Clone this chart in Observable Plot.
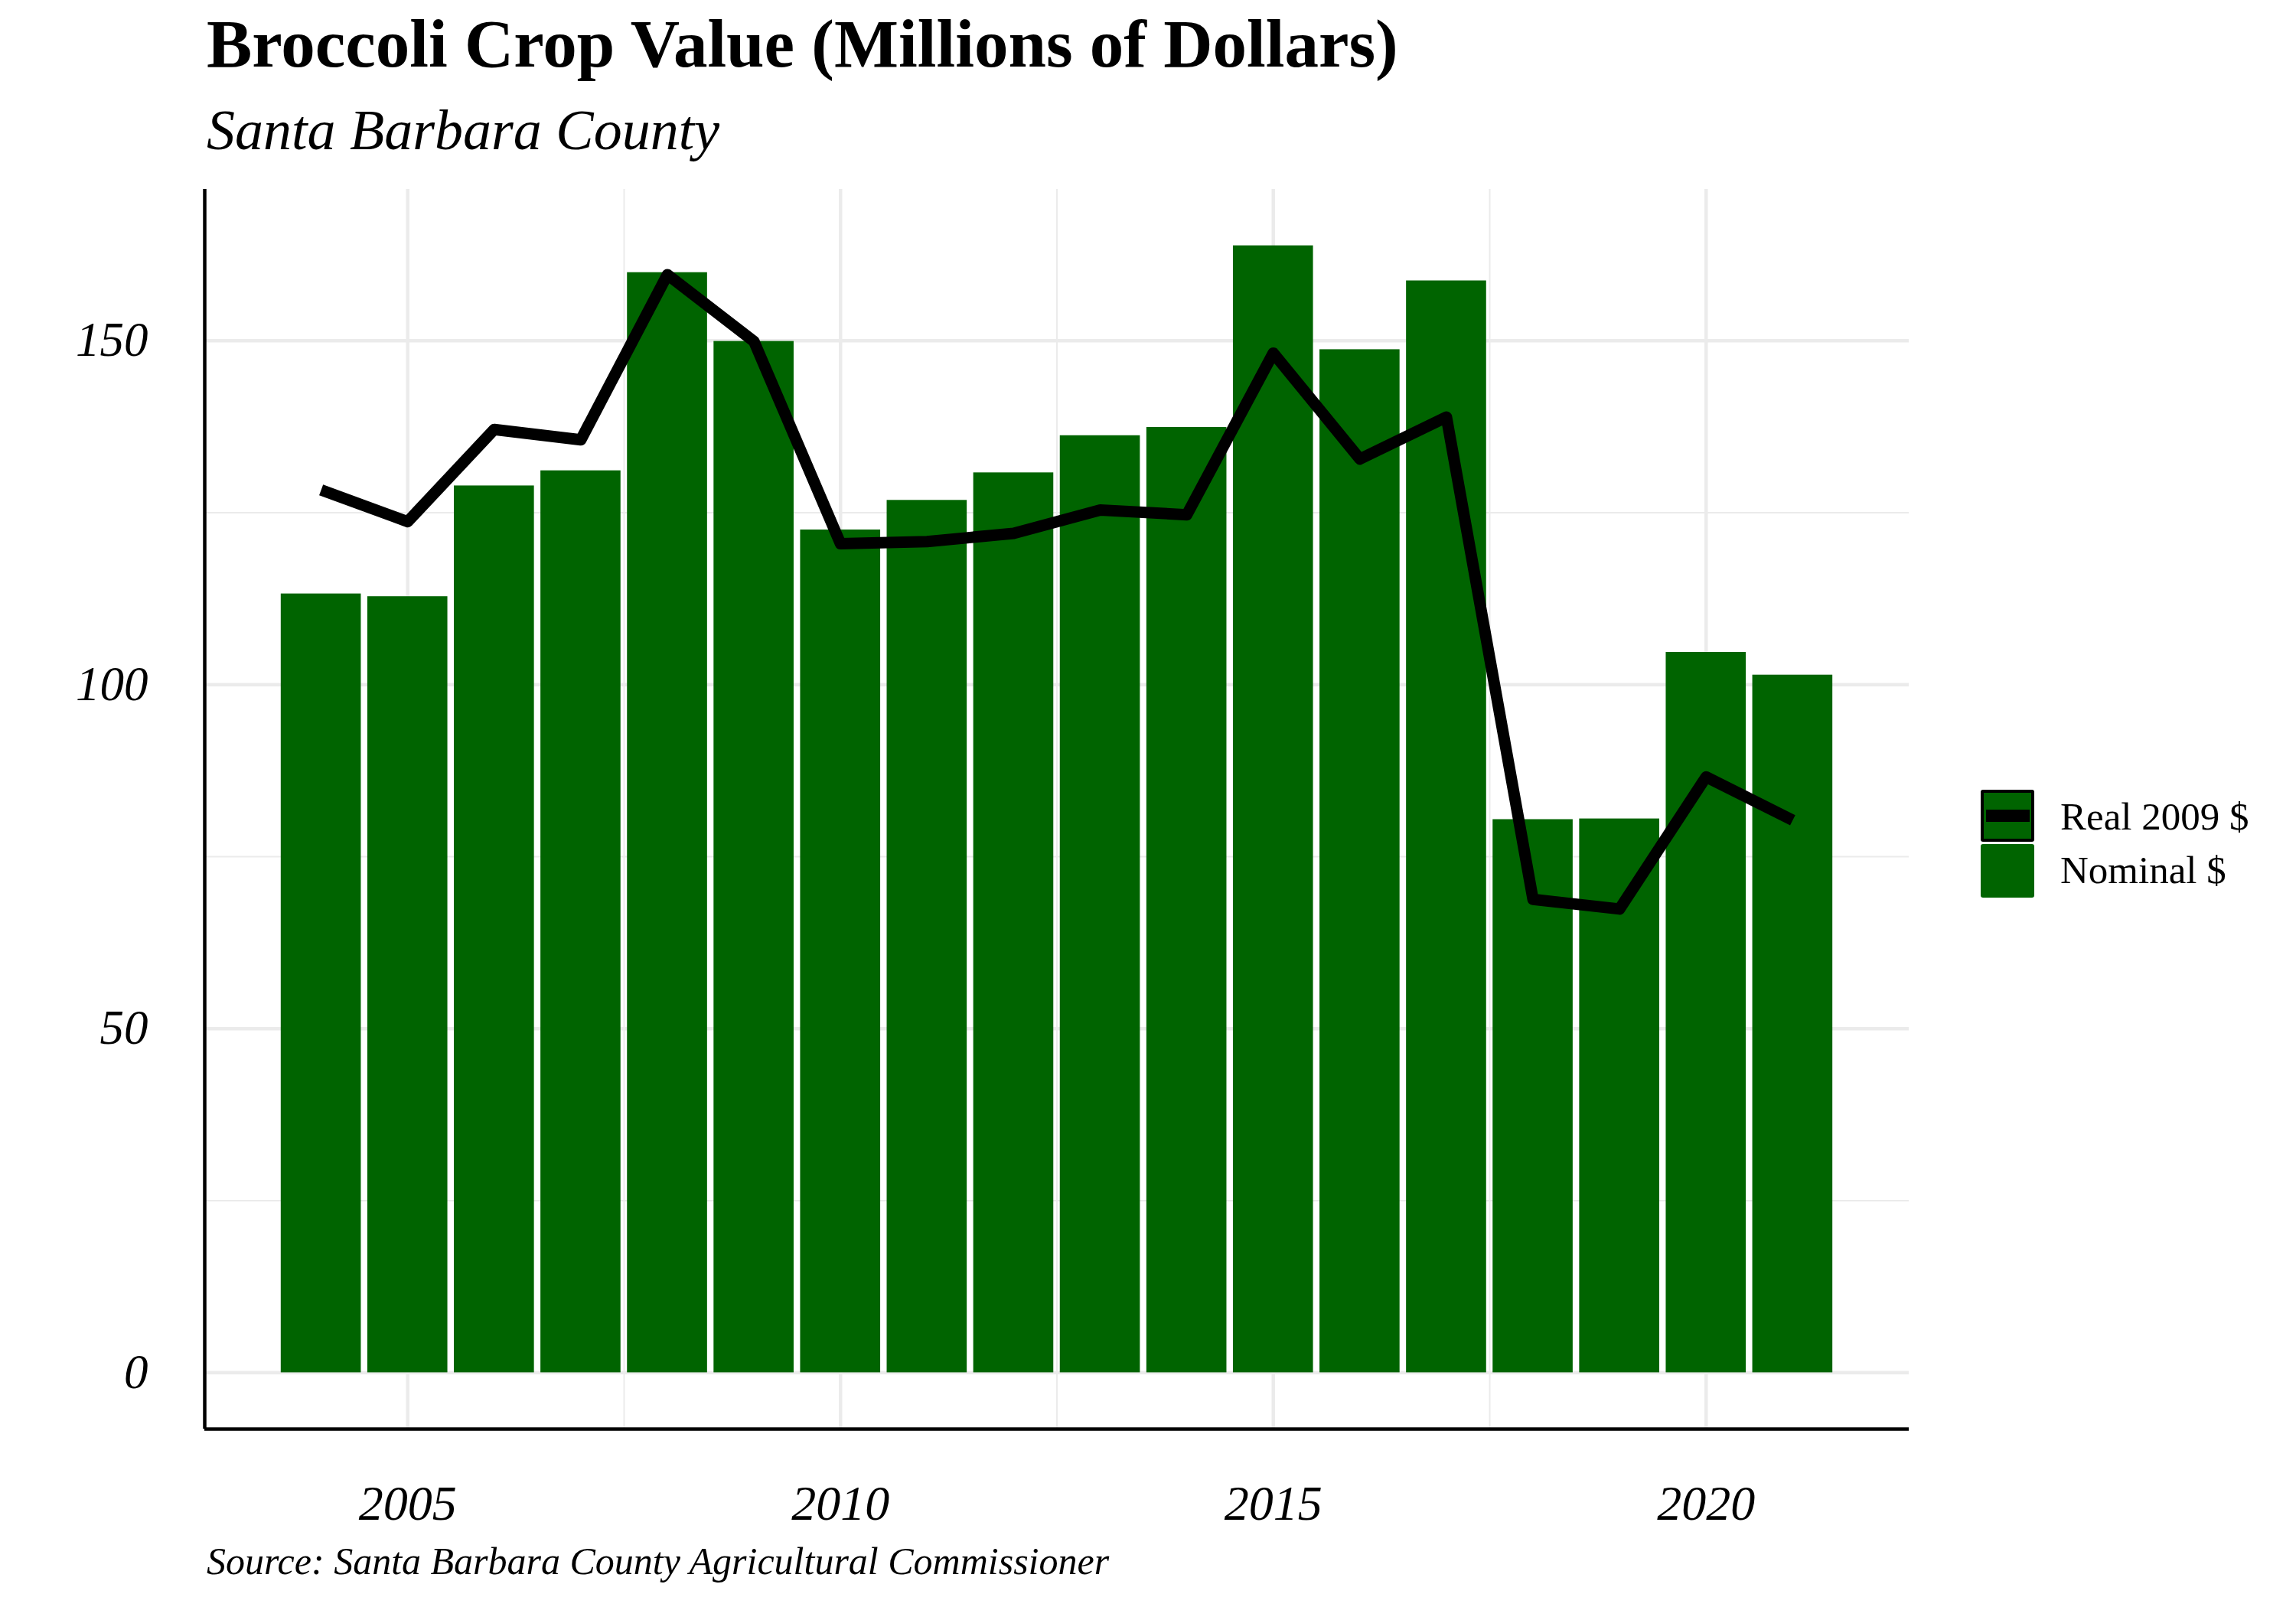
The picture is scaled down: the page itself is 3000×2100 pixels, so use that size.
<!DOCTYPE html>
<html>
<head>
<meta charset="utf-8">
<script src="https://cdn.jsdelivr.net/npm/d3@7"></script>
<script src="https://cdn.jsdelivr.net/npm/@observablehq/plot@0.6"></script>
<style>
  html, body { margin: 0; padding: 0; background: white; }
  #page { position: relative; width: 3000px; height: 2100px; background: white; font-family: "Liberation Serif", serif; color: black; overflow: hidden; }
  .txt { position: absolute; white-space: nowrap; line-height: 1; z-index: 2; }
  #title { left: 270px; top: 13px; font-size: 89px; font-weight: bold; }
  #subtitle { left: 270px; top: 133px; font-size: 74px; font-style: italic; }
  #caption { left: 270px; top: 2015px; font-size: 50px; font-style: italic; }
  #chart { position: absolute; left: 0; top: 200px; z-index: 1; }
  #chart svg text { font-style: italic; }
  .key { position: absolute; box-sizing: border-box; background: #006400; border-radius: 3px; }
  .legtxt { position: absolute; white-space: nowrap; line-height: 1; font-size: 51px; left: 2692px; }
</style>
</head>
<body>
<div id="page">
  <div id="chart"></div>
  <div id="title" class="txt">Broccoli Crop Value (Millions of Dollars)</div>
  <div id="subtitle" class="txt">Santa Barbara County</div>
  <div id="caption" class="txt">Source: Santa Barbara County Agricultural Commissioner</div>
  <div class="key" style="left:2588px; top:1032px; width:70px; height:68px; border:4px solid black;">
    <div style="position:absolute; left:3px; top:22px; width:57px; height:16px; background:black;"></div>
  </div>
  <div class="key" style="left:2588px; top:1103px; width:70px; height:70px;"></div>
  <div id="leg1" class="legtxt" style="top:1042px;"></div>
  <div id="leg2" class="legtxt" style="top:1112px;"></div>
</div>
<script>
// ---- Data ----
const years = [2004, 2005, 2006, 2007, 2008, 2009, 2010, 2011, 2012, 2013, 2014, 2015, 2016, 2017, 2018, 2019, 2020, 2021];
const nominal = [113.2, 112.8, 128.9, 131.1, 159.9, 149.9, 122.5, 126.8, 130.8, 136.2, 137.4, 163.8, 148.7, 158.7, 80.4, 80.5, 104.7, 101.4];
const real2009 = [128.3, 123.7, 137.1, 135.6, 159.6, 149.9, 120.5, 120.8, 122.0, 125.4, 124.7, 148.2, 132.8, 138.9, 68.8, 67.4, 86.6, 80.3];
const seriesLabels = ["Real 2009 $", "Nominal $"];
const yMajor = [0, 50, 100, 150];
const yMinor = [25, 75, 125];
const xMajor = [2005, 2010, 2015, 2020];
const xMinor = [2007.5, 2012.5, 2017.5];

document.getElementById("leg1").textContent = seriesLabels[0];
document.getElementById("leg2").textContent = seriesLabels[1];

const data = years.map((y, i) => ({year: y, nominal: nominal[i], real: real2009[i]}));

// ggplot-like 5% expansion
const halfW = 0.45;
const xLo = d3.min(years) - halfW, xHi = d3.max(years) + halfW;
const xPad = (xHi - xLo) * 0.05;
const xDomain = [xLo - xPad, xHi + xPad];
const yHi = d3.max([...nominal, ...real2009]), yLo = 0;
const yPad = (yHi - yLo) * 0.05;
const yDomain = [yLo - yPad, yHi + yPad];

const grid = "#EBEBEB";
const chart = Plot.plot({
  width: 2560,
  height: 1820,
  marginTop: 47,
  marginRight: 66,
  marginBottom: 153,
  marginLeft: 267,
  x: {domain: xDomain},
  y: {domain: yDomain},
  style: {fontFamily: "Liberation Serif, serif", background: "transparent", color: "black", overflow: "visible"},
  marks: [
    Plot.gridY(yMinor, {stroke: grid, strokeOpacity: 1, strokeWidth: 2}),
    Plot.gridX(xMinor, {stroke: grid, strokeOpacity: 1, strokeWidth: 2}),
    Plot.gridY(yMajor, {stroke: grid, strokeOpacity: 1, strokeWidth: 4.5}),
    Plot.gridX(xMajor, {stroke: grid, strokeOpacity: 1, strokeWidth: 4.5}),
    Plot.rectY(data, {x1: d => d.year - 0.4625, x2: d => d.year + 0.4625, y1: 0, y2: "nominal", fill: "#006400"}),
    Plot.lineY(data, {x: "year", y: "real", stroke: "black", strokeWidth: 15, strokeLinejoin: "round", strokeLinecap: "butt"}),
    Plot.axisY(yMajor, {tickSize: 0, tickPadding: 74, fontSize: 63, fontStyle: "italic", label: null, tickFormat: "d"}),
    Plot.axisX(xMajor, {tickSize: 0, tickPadding: 73, fontSize: 64, fontStyle: "italic", label: null, tickFormat: "d"}),
    Plot.ruleX([xDomain[0]], {stroke: "black", strokeWidth: 4.5}),
    Plot.ruleY([yDomain[0]], {stroke: "black", strokeWidth: 4.5})
  ]
});
document.getElementById("chart").appendChild(chart);
</script>
</body>
</html>
